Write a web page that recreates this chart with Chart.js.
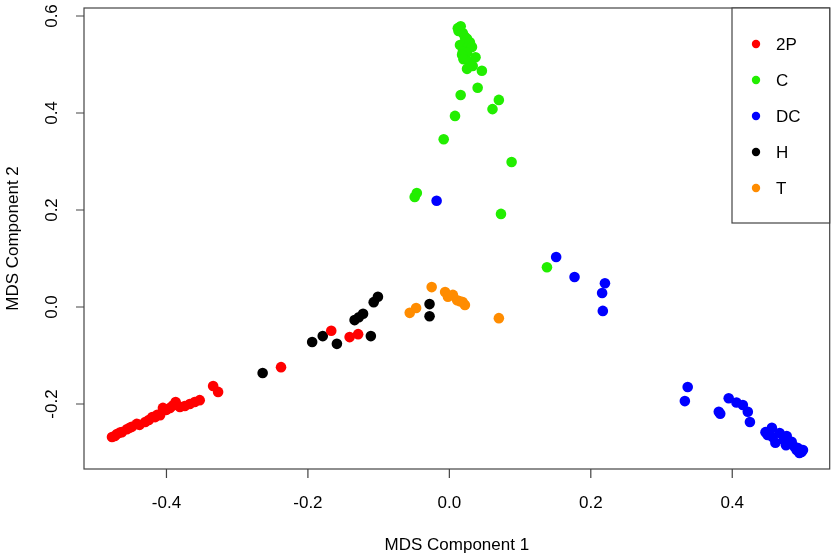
<!DOCTYPE html>
<html>
<head>
<meta charset="utf-8">
<script src="https://cdn.jsdelivr.net/npm/chart.js@4"></script>
<style>
  html, body { margin: 0; padding: 0; background: #fff; }
  #wrap { width: 835px; height: 558px; }
</style>
</head>
<body>
<div id="wrap"><canvas id="mds"></canvas></div>
<script>
// group labels and colours
const groups = ['2P', 'C', 'DC', 'H', 'T'];
const groupColors = ['#ff0000', '#22ee00', '#0000ff', '#000000', '#ff8c00'];

// MDS coordinates
const x2P = [-0.477, -0.473, -0.470, -0.466, -0.463, -0.456, -0.452, -0.449, -0.442, -0.438, -0.430, -0.425, -0.420, -0.416, -0.413, -0.409, -0.405, -0.400, -0.395, -0.391, -0.387, -0.381, -0.374, -0.367, -0.360, -0.353, -0.334, -0.327, -0.238, -0.167, -0.141, -0.129];
const y2P = [-0.268, -0.266, -0.262, -0.259, -0.258, -0.252, -0.249, -0.247, -0.241, -0.243, -0.237, -0.233, -0.227, -0.227, -0.222, -0.223, -0.208, -0.212, -0.208, -0.203, -0.196, -0.206, -0.204, -0.200, -0.196, -0.192, -0.163, -0.175, -0.124, -0.049, -0.062, -0.056];

const xC = [0.016, 0.012, 0.013, 0.019, 0.022, 0.025, 0.021, 0.029, 0.015, 0.026, 0.032, 0.019, 0.025, 0.018, 0.020, 0.028, 0.037, 0.025, 0.033, 0.046, 0.040, 0.016, 0.070, 0.061, 0.008, -0.008, 0.088, -0.046, -0.049, 0.073, 0.138];
const yC = [0.579, 0.575, 0.569, 0.565, 0.557, 0.553, 0.545, 0.546, 0.540, 0.536, 0.536, 0.526, 0.524, 0.520, 0.511, 0.505, 0.515, 0.491, 0.497, 0.487, 0.452, 0.437, 0.427, 0.408, 0.394, 0.346, 0.299, 0.235, 0.227, 0.192, 0.082];

const xDC = [-0.018, 0.151, 0.177, 0.220, 0.216, 0.217, 0.337, 0.333, 0.381, 0.383, 0.395, 0.406, 0.415, 0.422, 0.425, 0.447, 0.456, 0.450, 0.457, 0.461, 0.467, 0.477, 0.473, 0.476, 0.484, 0.488, 0.493, 0.498, 0.491, 0.500, 0.495];
const yDC = [0.219, 0.103, 0.062, 0.049, 0.029, -0.008, -0.165, -0.194, -0.216, -0.220, -0.188, -0.197, -0.202, -0.216, -0.237, -0.258, -0.249, -0.264, -0.268, -0.280, -0.260, -0.266, -0.274, -0.285, -0.278, -0.288, -0.291, -0.299, -0.295, -0.295, -0.301];

const xH = [-0.264, -0.194, -0.179, -0.159, -0.134, -0.128, -0.122, -0.111, -0.107, -0.101, -0.028, -0.028];
const yH = [-0.136, -0.072, -0.060, -0.076, -0.027, -0.021, -0.014, -0.060, 0.010, 0.021, 0.006, -0.019];

const xT = [-0.025, -0.056, -0.047, -0.006, -0.002, 0.005, 0.011, 0.019, 0.022, 0.015, 0.070];
const yT = [0.041, -0.012, -0.002, 0.031, 0.021, 0.025, 0.014, 0.010, 0.004, 0.012, -0.023];

// axis ticks
const xTicks = [-0.4, -0.2, 0.0, 0.2, 0.4];
const yTicks = [-0.2, 0.0, 0.2, 0.4, 0.6];
const xTitle = 'MDS Component 1';
const yTitle = 'MDS Component 2';

const coordsX = [x2P, xC, xDC, xH, xT];
const coordsY = [y2P, yC, yDC, yH, yT];

const FONT = '17px "Liberation Sans", Arial, sans-serif';

function toPoints(xs, ys) {
    return xs.map((x, i) => ({ x: x, y: ys[i] }));
}

// R-style box, ticks, labels and legend
const rAxes = {
    id: 'rAxes',
    afterDraw(chart) {
        const ctx = chart.ctx;
        const area = chart.chartArea;
        const sx = chart.scales.x;
        const sy = chart.scales.y;
        ctx.save();
        ctx.strokeStyle = '#444';
        ctx.lineWidth = 1.2;
        ctx.strokeRect(area.left, area.top, area.right - area.left, area.bottom - area.top);

        ctx.fillStyle = '#000';
        ctx.font = FONT;

        // x axis
        ctx.beginPath();
        xTicks.forEach(t => {
            const px = sx.getPixelForValue(t);
            ctx.moveTo(px, area.bottom);
            ctx.lineTo(px, area.bottom + 9);
        });
        ctx.stroke();
        ctx.textAlign = 'center';
        ctx.textBaseline = 'alphabetic';
        xTicks.forEach(t => {
            ctx.fillText(t.toFixed(1), sx.getPixelForValue(t), 508);
        });
        ctx.fillText(xTitle, (area.left + area.right) / 2, 550);

        // y axis
        ctx.beginPath();
        yTicks.forEach(t => {
            const py = sy.getPixelForValue(t);
            ctx.moveTo(area.left, py);
            ctx.lineTo(area.left - 8, py);
        });
        ctx.stroke();
        yTicks.forEach(t => {
            ctx.save();
            ctx.translate(57, sy.getPixelForValue(t));
            ctx.rotate(-Math.PI / 2);
            ctx.fillText(t.toFixed(1), 0, 0);
            ctx.restore();
        });
        ctx.save();
        ctx.translate(18, (area.top + area.bottom) / 2);
        ctx.rotate(-Math.PI / 2);
        ctx.fillText(yTitle, 0, 0);
        ctx.restore();

        // legend
        const lx = 732, ly = area.top, lw = area.right - 732, lh = 215;
        ctx.fillStyle = '#fff';
        ctx.fillRect(lx, ly, lw, lh);
        ctx.strokeRect(lx, ly, lw, lh);
        ctx.textAlign = 'left';
        ctx.textBaseline = 'middle';
        groups.forEach((g, i) => {
            const cy = 44 + i * 36;
            ctx.fillStyle = groupColors[i];
            ctx.beginPath();
            ctx.arc(756, cy, 4.2, 0, Math.PI * 2);
            ctx.fill();
            ctx.fillStyle = '#000';
            ctx.fillText(g, 776, cy + 1);
        });
        ctx.restore();
    }
};

const ctx = document.getElementById('mds').getContext('2d');
new Chart(ctx, {
    type: 'scatter',
    data: {
        datasets: groups.map((g, i) => ({
            label: g,
            data: toPoints(coordsX[i], coordsY[i]),
            backgroundColor: groupColors[i],
            borderWidth: 0,
            pointRadius: 5.3,
            pointHoverRadius: 5.3
        }))
    },
    options: {
        responsive: true,
        maintainAspectRatio: false,
        animation: false,
        devicePixelRatio: 1,
        layout: { padding: { left: 84, top: 8, right: 5, bottom: 89 } },
        plugins: {
            legend: { display: false },
            tooltip: { enabled: false }
        },
        scales: {
            x: { type: 'linear', min: -0.5166, max: 0.5378, display: false },
            y: { type: 'linear', min: -0.334, max: 0.6165, display: false }
        }
    },
    plugins: [rAxes]
});
</script>
</body>
</html>
